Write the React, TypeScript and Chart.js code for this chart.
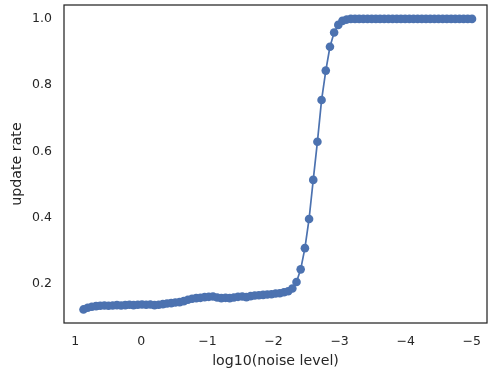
import React, { useEffect, useRef } from "react";
import { Chart, registerables } from "chart.js";

Chart.register(...registerables);

const noiseLog10: number[] = [
  0.875, 0.812, 0.749, 0.685, 0.622, 0.559, 0.496, 0.433, 0.369, 0.306,
  0.243, 0.18, 0.117, 0.053, -0.01, -0.073, -0.136, -0.199, -0.263, -0.326,
  -0.389, -0.452, -0.515, -0.579, -0.642, -0.705, -0.768, -0.831, -0.895, -0.958,
  -1.021, -1.084, -1.147, -1.211, -1.274, -1.337, -1.4, -1.463, -1.527, -1.59,
  -1.653, -1.716, -1.779, -1.843, -1.906, -1.969, -2.032, -2.095, -2.159, -2.222,
  -2.285, -2.348, -2.411, -2.475, -2.538, -2.601, -2.664, -2.727, -2.791, -2.854,
  -2.917, -2.98, -3.043, -3.107, -3.17, -3.233, -3.296, -3.359, -3.423, -3.486,
  -3.549, -3.612, -3.675, -3.739, -3.802, -3.865, -3.928, -3.991, -4.055, -4.118,
  -4.181, -4.244, -4.307, -4.371, -4.434, -4.497, -4.56, -4.623, -4.687, -4.75,
  -4.813, -4.876, -4.939, -5.003,
];

const updateRate: number[] = [
  0.123, 0.128, 0.131, 0.133, 0.134, 0.135, 0.134, 0.135, 0.136, 0.135,
  0.136, 0.137, 0.136, 0.137, 0.138, 0.137, 0.138, 0.136, 0.137, 0.139,
  0.141, 0.142, 0.144, 0.145, 0.148, 0.152, 0.155, 0.157, 0.158, 0.16,
  0.161, 0.162, 0.159, 0.157, 0.158, 0.157, 0.159, 0.161, 0.162, 0.16,
  0.163, 0.165, 0.166, 0.167, 0.168, 0.169, 0.171, 0.172, 0.175, 0.178,
  0.186, 0.206, 0.244, 0.308, 0.396, 0.514, 0.629, 0.755, 0.844, 0.916,
  0.959, 0.982, 0.994, 0.998, 1.0, 1.0, 1.0, 1.0, 1.0, 1.0,
  1.0, 1.0, 1.0, 1.0, 1.0, 1.0, 1.0, 1.0, 1.0, 1.0,
  1.0, 1.0, 1.0, 1.0, 1.0, 1.0, 1.0, 1.0, 1.0, 1.0,
  1.0, 1.0, 1.0, 1.0,
];

const xTicks: number[] = [1, 0, -1, -2, -3, -4, -5];
const yTicks: number[] = [0.2, 0.4, 0.6, 0.8, 1.0];

const TEXT = "#262626";
const FONT = "'DejaVu Sans', sans-serif";

const frame = {
  id: "frame",
  afterDraw(chart: any) {
    const { ctx, chartArea } = chart;
    ctx.save();
    ctx.strokeStyle = TEXT;
    ctx.lineWidth = 1.25;
    ctx.strokeRect(chartArea.left, chartArea.top, chartArea.right - chartArea.left, chartArea.bottom - chartArea.top);
    ctx.restore();
  },
};

export default function App() {
  const ref = useRef<HTMLCanvasElement>(null);
  useEffect(() => {
    if (!ref.current) return;
    const chart = new Chart(ref.current, {
      type: "line",
      data: {
        datasets: [
          {
            data: noiseLog10.map((x, i) => ({ x, y: updateRate[i] })),
            borderColor: "#4c72b0",
            backgroundColor: "#4c72b0",
            borderWidth: 1.7,
            pointRadius: 4.3,
            pointBorderWidth: 0,
            pointBackgroundColor: "#4c72b0",
            tension: 0,
          },
        ],
      },
      options: {
        animation: false,
        responsive: false,
        maintainAspectRatio: false,
        layout: { autoPadding: false, padding: { top: 5, right: 1, left: 0, bottom: 0 } },
        plugins: { legend: { display: false }, tooltip: { enabled: false } },
        scales: {
          x: {
            type: "linear",
            reverse: true,
            min: -5.23,
            max: 1.17,
            grid: { display: false, drawTicks: false },
            border: { display: false },
            afterBuildTicks: (s: any) => {
              s.ticks = xTicks.map((v) => ({ value: v }));
            },
            afterFit: (s: any) => {
              s.height = 50;
              s.paddingLeft = 0;
              s.paddingRight = 0;
            },
            ticks: {
              padding: 11,
              color: TEXT,
              font: { family: FONT, size: 12.5 },
              maxRotation: 0,
              callback: (v: any) => (Number(v) < 0 ? "\u2212" + Math.abs(Number(v)) : String(v)),
            },
            title: {
              display: true,
              text: "log10(noise level)",
              color: TEXT,
              font: { family: FONT, size: 14.2 },
              padding: { top: 0, bottom: 3 },
            },
          },
          y: {
            type: "linear",
            min: 0.082,
            max: 1.042,
            grid: { display: false, drawTicks: false },
            border: { display: false },
            afterBuildTicks: (s: any) => {
              s.ticks = yTicks.map((v) => ({ value: v }));
            },
            afterFit: (s: any) => {
              s.width = 64;
              s.paddingTop = 0;
              s.paddingBottom = 0;
            },
            ticks: {
              padding: 12,
              color: TEXT,
              font: { family: FONT, size: 12.5 },
              callback: (v: any) => Number(v).toFixed(1),
            },
            title: {
              display: true,
              text: "update rate",
              color: TEXT,
              font: { family: FONT, size: 14.2 },
              padding: { top: 9, bottom: 0 },
            },
          },
        },
      },
      plugins: [frame],
    });
    return () => chart.destroy();
  }, []);
  return (
    <div style={{ position: "absolute", left: 0, top: 0, width: 488, height: 373, background: "#fff" }}>
      <canvas ref={ref} width={488} height={373} />
    </div>
  );
}
